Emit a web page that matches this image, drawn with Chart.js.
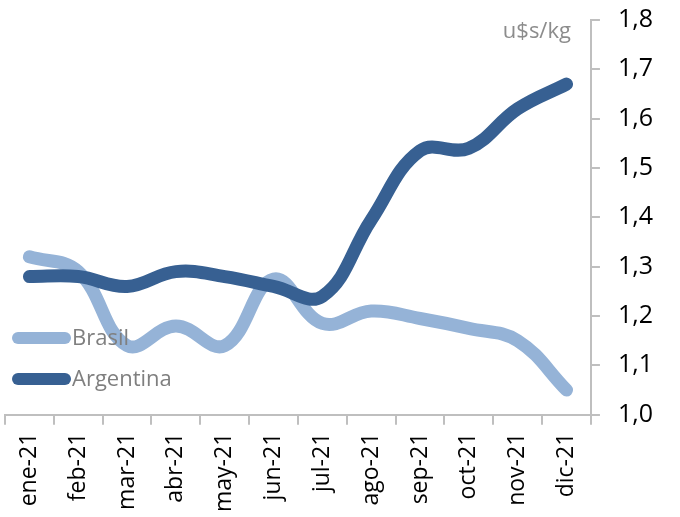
<!DOCTYPE html>
<html>
<head>
<meta charset="utf-8">
<script src="https://cdn.jsdelivr.net/npm/chart.js@4.4.1/dist/chart.umd.min.js"></script>
<style>
  html, body { margin: 0; padding: 0; background: #fff; }
  #wrap { width: 680px; height: 517px; }
</style>
</head>
<body>
<div id="wrap"><canvas id="chart" width="680" height="517"></canvas></div>
<script>
// months (Spanish), values in u$s/kg
const months = ['ene-21','feb-21','mar-21','abr-21','may-21','jun-21','jul-21','ago-21','sep-21','oct-21','nov-21','dic-21'];
const brasil = [1.32, 1.29, 1.14, 1.18, 1.14, 1.275, 1.185, 1.21, 1.195, 1.175, 1.15, 1.05];
const argentina = [1.28, 1.28, 1.26, 1.29, 1.28, 1.26, 1.24, 1.395, 1.535, 1.54, 1.62, 1.67];
const yMin = 1.0, yMax = 1.8, yStep = 0.1;
const unitLabel = 'u$s/kg';

const FONT = "'Open Sans', 'DejaVu Sans', sans-serif";
const axisGray = '#bfbfbf';

// legend drawn inside the plot, bottom-left, on top of the lines
const sideLegend = {
  id: 'sideLegend',
  afterDatasetsDraw(chart){
    const ctx = chart.ctx;
    const items = [
      {label:'Brasil', color: chart.data.datasets[1].borderColor, y: 338},
      {label:'Argentina', color: chart.data.datasets[0].borderColor, y: 379}
    ];
    ctx.save();
    items.forEach(it=>{
      ctx.strokeStyle = it.color;
      ctx.lineWidth = 12;
      ctx.lineCap = 'round';
      ctx.beginPath();
      ctx.moveTo(18, it.y);
      ctx.lineTo(65, it.y);
      ctx.stroke();
      ctx.fillStyle = '#7f7f7f';
      ctx.font = '22px ' + FONT;
      ctx.textBaseline = 'middle';
      ctx.textAlign = 'left';
      ctx.fillText(it.label, 72, it.y + 1);
    });
    // unit label top-right of plot
    ctx.fillStyle = '#8c8c8c';
    ctx.font = '22px ' + FONT;
    ctx.textAlign = 'right';
    ctx.fillText(unitLabel, chart.chartArea.right - 20, 32);
    ctx.restore();
  }
};

new Chart(document.getElementById('chart'), {
  type: 'line',
  data: {
    labels: months,
    datasets: [
      {label:'Argentina', data: argentina, borderColor:'#376092', backgroundColor:'#376092'},
      {label:'Brasil', data: brasil, borderColor:'#95b3d7', backgroundColor:'#95b3d7'}
    ].map(d => Object.assign(d, {
      borderWidth: 13, pointRadius: 0, tension: 0.4, fill: false,
      borderCapStyle: 'round', borderJoinStyle: 'round'
    }))
  },
  options: {
    responsive: false,
    animation: false,
    devicePixelRatio: 1,
    layout: { padding: { left: 5, right: 9, top: 0, bottom: -3 } },
    plugins: { legend: { display: false }, tooltip: { enabled: false } },
    scales: {
      x: {
        offset: true,
        border: { color: axisGray, width: 2 },
        grid: { offset: true, drawOnChartArea: false, drawTicks: true, tickLength: 10, color: axisGray, lineWidth: 2 },
        ticks: { minRotation: 90, maxRotation: 90, autoSkip: false, padding: 8, color: '#000', font: { family: FONT, size: 23 } }
      },
      y: {
        position: 'right',
        min: yMin, max: yMax,
        border: { color: axisGray, width: 2 },
        grid: { drawOnChartArea: false, drawTicks: true, tickLength: 9, color: axisGray, lineWidth: 2 },
        ticks: {
          stepSize: yStep, padding: 18, color: '#000',
          font: { family: FONT, size: 25 },
          callback: v => v.toFixed(1).replace('.', ',')
        },
        // tick padding otherwise pushes the plot top down
        afterFit: s => { s.paddingTop = 20; }
      }
    }
  },
  plugins: [sideLegend]
});
</script>
</body>
</html>
